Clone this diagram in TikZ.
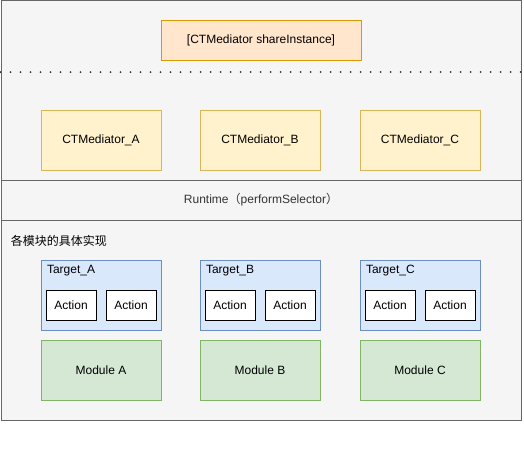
\documentclass[tikz,border=0pt]{standalone}
\usepackage{fontspec}
\setmainfont{Liberation Sans}
\newfontfamily\cjk{Noto Sans CJK SC}
\definecolor{bgfill}{HTML}{F5F5F5}
\definecolor{bgline}{HTML}{666666}
\definecolor{topfill}{HTML}{FFE6CC}
\definecolor{topline}{HTML}{D79B00}
\definecolor{medfill}{HTML}{FFF2CC}
\definecolor{medline}{HTML}{D6B656}
\definecolor{tgtfill}{HTML}{DAE8FC}
\definecolor{tgtline}{HTML}{6C8EBF}
\definecolor{modfill}{HTML}{D5E8D4}
\definecolor{modline}{HTML}{82B366}
\begin{document}
\begin{tikzpicture}[x=1pt,y=-1pt,line width=1pt,font=\fontsize{12}{14}\selectfont,
    box/.style={draw,inner sep=0pt,minimum width=120pt,minimum height=60pt},
    layer/.style={draw=bgline,fill=bgfill,inner sep=0pt,minimum width=520pt},
    medbox/.style={box,fill=medfill,draw=medline},
    tgtbox/.style={box,fill=tgtfill,draw=tgtline,minimum height=70pt},
    modbox/.style={box,fill=modfill,draw=modline},
    actbox/.style={box,fill=white,draw=black,minimum width=50pt,minimum height=30pt}]
\useasboundingbox(0,0)rectangle(524,461);
% layers
\node[layer,minimum height=180pt](upper)at(261,90){};
\node[layer,minimum height=40pt,text=black!80](rt)at(261,200){Runtime{\cjk（}performSelector{\cjk）}};
\node[layer,minimum height=200pt](lower)at(261,320){};
\draw[black!80,line width=2pt,line cap=round,dash pattern=on 0pt off 10pt](upper.west|-0,72)--(upper.east|-0,72);
\node[box,fill=topfill,draw=topline,minimum width=200pt,minimum height=40pt](share)at(261,40){[CTMediator shareInstance]};
\node[anchor=west](impl)at(7,241){\cjk 各模块的具体实现};
% three columns
\foreach \c/\x in {A/101,B/260,C/420}{
  \node[medbox](med\c)at(\x,140){CTMediator\_\c};
  \node[tgtbox](tgt\c)at(\x,295){};
  \node[anchor=west,inner sep=0pt](lbl\c)at([xshift=6pt]tgt\c.west|-0,271){Target\_\c};
  \node[actbox](act\c1)at(\x-30,305){Action};
  \node[actbox](act\c2)at(\x+30,305){Action};
  \node[modbox](mod\c)at(\x,370){Module \c};
}
\end{tikzpicture}
\end{document}
